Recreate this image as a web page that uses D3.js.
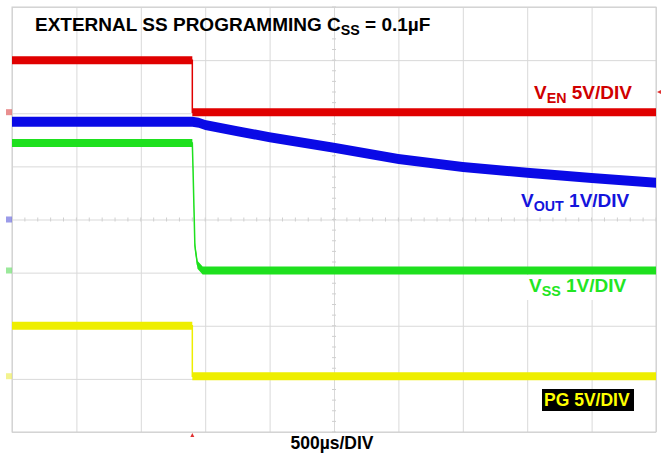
<!DOCTYPE html>
<html><head><meta charset="utf-8">
<script src="https://cdn.jsdelivr.net/npm/d3@7"></script>
<style>body{margin:0;background:#fff}svg{display:block;font-family:"Liberation Sans",Arial,sans-serif;font-weight:bold}</style>
</head><body><svg id="c" width="662" height="458"></svg>
<script>
// time in µs (500 µs/div), amplitude in screen divisions
const venT  = [0, 1400, 1400, 5000];
const venV  = [3.0, 3.0, 2.02, 2.02];
const voutT = [0, 1400, 1450, 1500, 1750, 2000, 2500, 3000, 3500, 4000, 4500, 5000];
const voutV = [1.84, 1.84, 1.82, 1.78, 1.66, 1.55, 1.35, 1.14, 0.99, 0.88, 0.78, 0.69];
const vssT  = [0, 1400, 1405, 1420, 1440, 1480, 5000];
const vssV  = [1.44, 1.44, 1.0, -0.5, -0.85, -0.96, -0.96];
const pgT   = [0, 1400, 1400, 5000];
const pgV   = [-2.0, -2.0, -2.95, -2.95];
const xTicks = [0,500,1000,1500,2000,2500,3000,3500,4000,4500,5000];
const yTicks = [-4,-3,-2,-1,0,1,2,3,4];

const svg = d3.select("#c");
const L=12, R=656, T=7, B=432;
const x = d3.scaleLinear([0,5000],[L,R]);
const y = d3.scaleLinear([-4,4],[B,T]);

// grid
const g = svg.append("g");
g.append("g").attr("transform",`translate(0,${B})`)
  .call(d3.axisBottom(x).tickValues(xTicks).tickSize(-(B-T)).tickFormat(""))
  .call(a=>{a.select(".domain").remove();a.selectAll("line").attr("stroke","#d9d9d9");});
g.append("g").attr("transform",`translate(${L},0)`)
  .call(d3.axisLeft(y).tickValues(yTicks).tickSize(-(R-L)).tickFormat(""))
  .call(a=>{a.select(".domain").remove();a.selectAll("line").attr("stroke","#d9d9d9");});
// minor ticks on center axes
const minorX = d3.range(0,5001,100), minorY = d3.range(-4,4.01,0.2);
g.selectAll(".mx").data(minorX).join("line")
  .attr("x1",d=>x(d)).attr("x2",d=>x(d)).attr("y1",y(0)-2).attr("y2",y(0)+2).attr("stroke","#cfcfcf");
g.selectAll(".my").data(minorY).join("line")
  .attr("y1",d=>y(d)).attr("y2",d=>y(d)).attr("x1",x(2500)-2).attr("x2",x(2500)+2).attr("stroke","#cfcfcf");
g.append("rect").attr("x",L).attr("y",T).attr("width",R-L).attr("height",B-T)
  .attr("fill","none").attr("stroke","#cfcfcf");

function trace(ts, vs, color, half){
  const pts = ts.map((t,i)=>[t,vs[i]]);
  svg.append("path").datum(pts)
    .attr("d", d3.area().x(d=>x(d[0])).y0(d=>y(d[1])+half).y1(d=>y(d[1])-half))
    .attr("fill", color);
  svg.append("path").datum(pts)
    .attr("d", d3.line().x(d=>x(d[0])).y(d=>y(d[1])))
    .attr("fill","none").attr("stroke",color).attr("stroke-width",1.5);
}
trace(venT, venV, "#e00000", 4);
trace(pgT, pgV, "#eeee00", 4);
trace(vssT, vssV, "#1ee01e", 4);
trace(voutT, voutV, "#0a0ae6", 5);

// channel markers
const markers = [[2.02,"#e06060"],[0,"#7070e0"],[-0.96,"#70e070"],[-2.95,"#eeee60"]];
svg.selectAll(".mk").data(markers).join("rect")
  .attr("x",6).attr("y",d=>y(d[0])-3).attr("width",6).attr("height",6).attr("fill",d=>d[1]).attr("opacity",0.7);
svg.append("path").attr("d",`M${x(1400)-2},${B+5}L${x(1400)+2},${B+5}L${x(1400)},${B+1}Z`).attr("fill","#e03030");
svg.append("path").attr("d",`M${R+5},${y(2.4)-2}L${R+5},${y(2.4)+2}L${R+1},${y(2.4)}Z`).attr("fill","#e03030");

// texts
function label(xp, yp, main, sub, rest, color, size){
  const t = svg.append("text").attr("x",xp).attr("y",yp).attr("fill",color).attr("font-size",size);
  t.append("tspan").text(main);
  if(sub){ t.append("tspan").attr("font-size",size*0.75).attr("dy",4).text(sub);
           t.append("tspan").attr("dy",-4).text(rest); }
  return t;
}
label(35, 31, "EXTERNAL SS PROGRAMMING C", "SS", " = 0.1µF", "#000", 19);
label(534, 99, "V", "EN", " 5V/DIV", "#d00000", 19);
label(521, 207, "V", "OUT", " 1V/DIV", "#1414dc", 19);
svg.append("rect").attr("x",524).attr("y",275).attr("width",109).attr("height",25).attr("fill","#fff");
label(529, 292, "V", "SS", " 1V/DIV", "#22e622", 19);
svg.append("rect").attr("x",542).attr("y",389).attr("width",92).attr("height",22).attr("fill","#000");
label(544, 406, "PG 5V/DIV", null, null, "#ffff00", 17.5);
svg.append("text").attr("x",332).attr("y",449).attr("text-anchor","middle").attr("font-size",17.5).attr("fill","#000").text("500µs/DIV");
</script></body></html>
